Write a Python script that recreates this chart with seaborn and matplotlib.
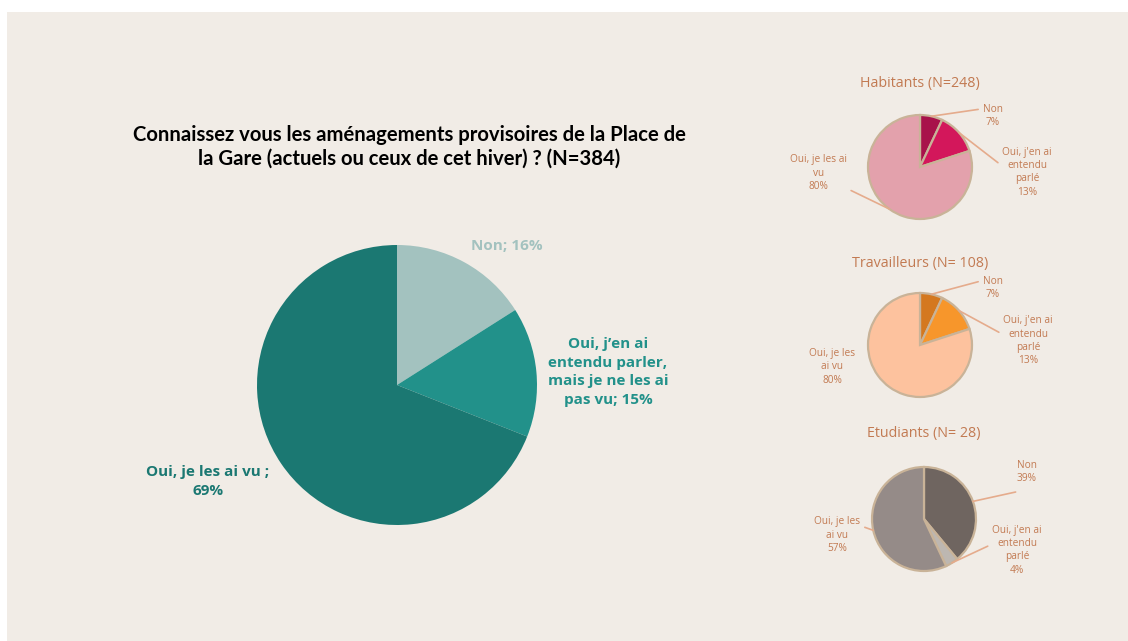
import numpy as np
import seaborn as sns
import matplotlib.pyplot as plt
from matplotlib.patches import Rectangle

# data
main_labels = ["Non; 16%", "Oui, j’en ai\nentendu parler,\nmais je ne les ai\npas vu; 15%", "Oui, je les ai vu ;\n69%"]
main_values = [16, 15, 69]
main_colors = ["#a3c2bf", "#22918a", "#1b7872"]

groups = ["Habitants (N=248)", "Travailleurs (N= 108)", "Etudiants (N= 28)"]
hab_values = [7, 13, 80]
trav_values = [7, 13, 80]
etu_values = [39, 4, 57]
hab_labels = ["Non\n7%", "Oui, j'en ai\nentendu\nparlé\n13%", "Oui, je les ai\nvu\n80%"]
trav_labels = ["Non\n7%", "Oui, j'en ai\nentendu\nparlé\n13%", "Oui, je les\nai vu\n80%"]
etu_labels = ["Non\n39%", "Oui, j'en ai\nentendu\nparlé\n4%", "Oui, je les\nai vu\n57%"]
hab_colors = ["#a8124a", "#d3175b", "#e3a1ac"]
trav_colors = ["#d4781f", "#f7962b", "#fdc29e"]
etu_colors = ["#6f6560", "#bdb7b1", "#958b88"]

W, H = 1128, 641
BG = "#f1ece6"
TXT = "#c27a52"
LEAD = "#e5ab8c"

sns.set_theme(style="white")
plt.rcParams["font.family"] = ["Open Sans", "DejaVu Sans"]

fig = plt.figure(figsize=(W / 100, H / 100), dpi=100)
fig.patch.set_facecolor("white")
fig.patches.append(Rectangle((7 / W, 0), 1, (H - 12) / H, transform=fig.transFigure,
                             facecolor=BG, edgecolor="none", zorder=-10))


def pie_axes(cx, cy, hw, hh, r):
    ax = fig.add_axes([(cx - hw) / W, 1 - (cy + hh) / H, 2 * hw / W, 2 * hh / H])
    ax.set_facecolor("none")
    return ax, hw / r, hh / r


def finish(ax, xl, yl):
    ax.set_xlim(-xl, xl)
    ax.set_ylim(-yl, yl)
    ax.set_aspect("auto")
    ax.axis("off")


# main pie
ax, xl, yl = pie_axes(397, 385, 300, 200, 140)
ax.pie(main_values, colors=main_colors, startangle=90, counterclock=False,
       wedgeprops=dict(linewidth=0))
main_pos = [(0.786, 0.993), (1.507, 0.093), (-1.35, -0.686)]
for lab, col, (x, y) in zip(main_labels, main_colors, main_pos):
    ax.text(x, y, lab, ha="center", va="center", color=col, fontsize=11,
            fontweight="bold", linespacing=1.45)
finish(ax, xl, yl)
fig.text(409 / W, 1 - 147 / H,
         "Connaissez vous les aménagements provisoires de la Place de\nla Gare (actuels ou ceux de cet hiver) ? (N=384)",
         ha="center", va="center", fontsize=14.6, fontweight="bold", color="black",
         family=["Lato", "DejaVu Sans"], linespacing=1.2)

# small pies
small = [
    (groups[0], hab_values, hab_labels, hab_colors, (920, 167), 83,
     [(1.40, 0.98), (2.06, -0.10), (-1.96, -0.12)],
     [(0, 0.8), (0, 0.62), (1, 0.1)]),
    (groups[1], trav_values, trav_labels, trav_colors, (920, 345), 263,
     [(1.40, 1.10), (2.08, 0.08), (-1.69, -0.42)],
     [(0, 0.8), (0, 0.62), None]),
    (groups[2], etu_values, etu_labels, etu_colors, (924, 519), 434,
     [(1.98, 0.90), (1.79, -0.60), (-1.67, -0.31)],
     [(0.0, -0.3), (0, 0.62), (1, 0.75)]),
]
r = 52
for title, vals, labs, cols, (cx, cy), ty, pos, rel in small:
    ax, xl, yl = pie_axes(cx, cy, 150, 70, r)
    wedges, _ = ax.pie(vals, colors=cols, startangle=90, counterclock=False,
                       wedgeprops=dict(linewidth=1.6, edgecolor="#c9b398"))
    for w, lab, (x, y), rp in zip(wedges, labs, pos, rel):
        mid = np.deg2rad((w.theta1 + w.theta2) / 2)
        if rp is None:
            ax.text(x, y, lab, ha="center", va="center", color=TXT,
                    fontsize=7.3, linespacing=1.3)
            continue
        ax.annotate(lab, xy=(np.cos(mid), np.sin(mid)), xytext=(x, y),
                    ha="center", va="center", color=TXT, fontsize=7.3, linespacing=1.3,
                    arrowprops=dict(arrowstyle="-", color=LEAD, lw=1.2,
                                    relpos=rp, shrinkA=1, shrinkB=0))
    finish(ax, xl, yl)
    fig.text(cx / W, 1 - ty / H, title, ha="center", va="center", color=TXT, fontsize=10.3)

fig.savefig("out.png", dpi=100, facecolor=fig.get_facecolor())
